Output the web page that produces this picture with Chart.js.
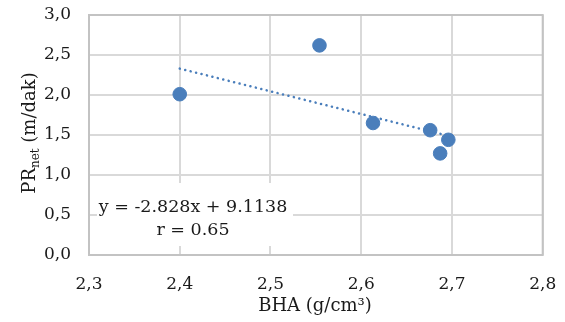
<!DOCTYPE html>
<html><head><meta charset="utf-8">
<script src="https://cdn.jsdelivr.net/npm/chart.js@4/dist/chart.umd.min.js"></script>
<style>html,body{margin:0;padding:0;background:#fff;}#wrap{width:565px;height:322px;}</style>
</head><body><div id="wrap"><canvas id="c" width="565" height="322"></canvas></div>
<script>
// Data
const bha = [2.400, 2.554, 2.613, 2.676, 2.696, 2.687];
const prNet = [2.01, 2.62, 1.65, 1.56, 1.44, 1.27];
const trendX = [2.400, 2.696];
const trendY = [2.33, 1.49];
const xTicks = [2.3, 2.4, 2.5, 2.6, 2.7, 2.8];
const yTicks = [0.0, 0.5, 1.0, 1.5, 2.0, 2.5, 3.0];
const equationLines = ['y = -2.828x + 9.1138', 'r = 0.65'];
const xTitle = 'BHA (g/cm\u00B3)';
const yTitleMain = 'PR', yTitleSub = 'net', yTitleRest = ' (m/dak)';

const FONT = '"DejaVu Serif", serif';
const BLUE = '#4a7ebb';
const TXT = '#1a1a1a';
const fmt = v => Number(v).toFixed(1).replace('.', ',');

const deco = {
  id: 'deco',
  beforeDatasetsDraw(chart) {
    const {ctx, chartArea: a} = chart;
    ctx.save();
    ctx.strokeStyle = '#c3c3c3';
    ctx.lineWidth = 2;
    ctx.strokeRect(a.left, a.top, a.right - a.left, a.bottom - a.top);
    ctx.fillStyle = '#fff';
    ctx.fillRect(97, 183, 196, 63);
    ctx.fillStyle = TXT;
    ctx.font = '17.5px ' + FONT;
    ctx.textAlign = 'center';
    ctx.textBaseline = 'middle';
    ctx.fillText(equationLines[0], 193, 207);
    ctx.fillText(equationLines[1], 193, 230);
    ctx.restore();
  },
  afterDraw(chart) {
    const {ctx} = chart;
    ctx.save();
    ctx.fillStyle = TXT;
    ctx.font = '18px ' + FONT;
    ctx.textAlign = 'center';
    ctx.textBaseline = 'middle';
    ctx.fillText(xTitle, 315, 306);
    ctx.translate(28, 133);
    ctx.rotate(-Math.PI / 2);
    ctx.textAlign = 'left';
    ctx.textBaseline = 'alphabetic';
    const mainF = '18px ' + FONT, subF = '12px ' + FONT;
    ctx.font = mainF; const w1 = ctx.measureText(yTitleMain).width; const w3 = ctx.measureText(yTitleRest).width;
    ctx.font = subF; const w2 = ctx.measureText(yTitleSub).width;
    let x = -(w1 + w2 + w3) / 2;
    ctx.font = mainF; ctx.fillText(yTitleMain, x, 7); x += w1;
    ctx.font = subF; ctx.fillText(yTitleSub, x, 11); x += w2;
    ctx.font = mainF; ctx.fillText(yTitleRest, x, 7);
    ctx.restore();
  }
};

new Chart(document.getElementById('c'), {
  type: 'scatter',
  data: {
    datasets: [
      {
        label: 'trend', type: 'line',
        data: trendX.map((x, i) => ({x, y: trendY[i]})),
        borderColor: BLUE, borderWidth: 2.5, borderDash: [0.1, 5.5], borderCapStyle: 'round',
        pointRadius: 0, fill: false, order: 2
      },
      {
        label: 'PR', data: bha.map((x, i) => ({x, y: prNet[i]})),
        backgroundColor: BLUE, borderColor: BLUE, pointRadius: 6.8, pointHoverRadius: 6.8, order: 1
      }
    ]
  },
  options: {
    responsive: false, animation: false, devicePixelRatio: 1,
    layout: {padding: {top: 15, right: 22.3, left: 0, bottom: 0}},
    plugins: {legend: {display: false}, tooltip: {enabled: false}},
    scales: {
      x: {
        type: 'linear', min: 2.3, max: 2.8,
        afterBuildTicks: s => { s.ticks = xTicks.map(v => ({value: v})); },
        afterFit: s => { s.height = 67; s.paddingLeft = 0; s.paddingRight = 0; },
        grid: {color: '#d9d9d9', lineWidth: 2, drawTicks: false},
        border: {display: false},
        ticks: {callback: fmt, padding: 19, color: TXT, font: {family: FONT, size: 17}, maxRotation: 0}
      },
      y: {
        type: 'linear', min: 0, max: 3,
        afterBuildTicks: s => { s.ticks = yTicks.map(v => ({value: v})); },
        afterFit: s => { s.width = 89; s.paddingTop = 0; s.paddingBottom = 0; },
        grid: {color: '#d9d9d9', lineWidth: 2, drawTicks: false},
        border: {display: false},
        ticks: {callback: fmt, padding: 18, color: TXT, font: {family: FONT, size: 17}}
      }
    }
  },
  plugins: [deco]
});
</script>
</body></html>
